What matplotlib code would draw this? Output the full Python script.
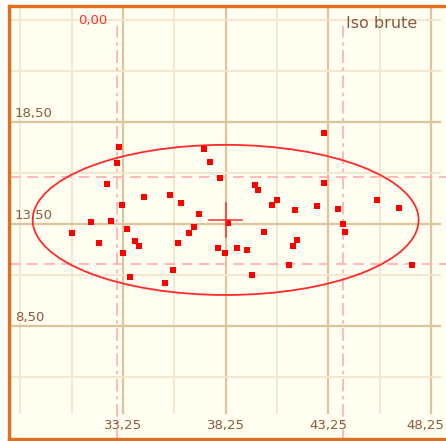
import matplotlib
matplotlib.use("Agg")
import matplotlib.pyplot as plt
import numpy as np
from matplotlib.patches import Ellipse

# ---- data ----
x_vals = [33.04, 32.97, 32.49, 33.20, 34.29, 37.18, 37.49, 37.96, 35.54, 36.09,
          36.94, 43.04, 39.66, 39.84, 40.77, 40.52, 41.63, 42.71, 43.04, 43.74,
          45.61, 46.71, 30.78, 31.71, 32.65, 33.43, 32.10, 33.82, 34.04, 33.26,
          33.59, 36.71, 36.46, 35.93, 35.70, 35.31, 38.35, 37.89, 38.20, 38.82,
          40.13, 39.29, 39.53, 41.71, 41.55, 41.32, 43.98, 44.06, 47.34]
y_vals = [17.26, 16.48, 15.45, 14.43, 14.84, 17.18, 16.55, 15.77, 14.91, 14.51,
          14.00, 17.96, 15.40, 15.15, 14.68, 14.45, 14.19, 14.37, 15.52, 14.22,
          14.66, 14.30, 13.04, 13.58, 13.65, 13.25, 12.55, 12.65, 12.42, 12.09,
          10.92, 13.35, 13.04, 12.55, 11.25, 10.62, 13.56, 12.34, 12.09, 12.34,
          13.11, 12.24, 11.00, 12.72, 12.42, 11.48, 13.50, 13.09, 11.48]

center_x, center_y = 38.25, 13.70
ellipse_half_w, ellipse_half_h = 9.40, 3.68
sd_x = [32.97, 43.98]
sd_y = [15.80, 11.54]
cross_half_w, cross_half_h = 0.80, 0.85

x_major = [33.25, 38.25, 43.25, 48.25]
x_minor = [28.25, 30.75, 35.75, 40.75, 45.75]
y_major = [18.5, 13.5, 8.5]
y_minor = [23.5, 21.0, 16.0, 11.0, 6.0]
x_tick_labels = ["33,25", "38,25", "43,25", "48,25"]
y_tick_labels = ["18,50", "13,50", "8,50"]
corner_label = "0,00"
title_label = "Iso brute"

# ---- figure ----
W, H = 446, 441
fig = plt.figure(figsize=(W / 100, H / 100), dpi=100, facecolor="white")
left_px, right_px, top_px, bot_px = 9, 452, 5.5, 438.5
ax = fig.add_axes([left_px / W, (H - bot_px) / H, (right_px - left_px) / W, (bot_px - top_px) / H])
ax.set_facecolor("#fffef0")

# pixel mapping (from reference): x: 123px->33.25, 20.53 px/unit ; y: 122px->18.5, 20.4 px/unit
def px2x(p):
    return 33.25 + (p - 123) / 20.53

def px2y(p):
    return 18.5 - (p - 122) / 20.4

ax.set_xlim(px2x(left_px), px2x(right_px))
ax.set_ylim(px2y(bot_px), px2y(top_px))
ax.set_xticks([])
ax.set_yticks([])
for s in ax.spines.values():
    s.set_color("#e0701e")
    s.set_linewidth(2.4)

major_c = "#dcc49c"
minor_c = "#f4e4cb"
vy0, vy1 = px2y(413), px2y(9)
hx0, hx1 = px2x(10), px2x(440)
for v in x_minor:
    ax.plot([v, v], [vy0, vy1], color=minor_c, lw=1.3, zorder=1)
for v in x_major:
    ax.plot([v, v], [vy0, vy1], color=major_c, lw=1.6, zorder=1)
for v in y_minor:
    ax.plot([hx0, hx1], [v, v], color=minor_c, lw=1.3, zorder=1)
for v in y_major:
    ax.plot([hx0, hx1], [v, v], color=major_c, lw=1.6, zorder=1)

# sd dashed lines
pink = "#ffb4b4"
for v in sd_x:
    ax.plot([v, v], [px2y(445), px2y(26)], color=pink, lw=1.3, dashes=(7, 2.5, 2, 2.5), zorder=2)
for v in sd_y:
    ax.plot([px2x(10), px2x(450)], [v, v], color=pink, lw=1.3, dashes=(6, 3.5), zorder=2)

# ellipse
ell = Ellipse((center_x, center_y), 2 * ellipse_half_w, 2 * ellipse_half_h,
              fill=False, edgecolor="#ff2a2a", lw=1.3, zorder=3)
ax.add_patch(ell)

# points
ax.plot(x_vals, y_vals, linestyle="none", marker="s", markersize=4.4,
        markerfacecolor="#ff0000", markeredgecolor="#ff0000", markeredgewidth=0, zorder=4)

# center cross
ax.plot([center_x - cross_half_w, center_x + cross_half_w], [center_y, center_y], color="#ff2a2a", lw=1.1, zorder=5)
ax.plot([center_x, center_x], [center_y - cross_half_h, center_y + cross_half_h], color="#ff2a2a", lw=1.1, zorder=5)

# labels
brown = "#8c5a3c"
for v, lab in zip(y_major, y_tick_labels):
    ax.text(px2x(15), v + 0.12, lab, color=brown, fontsize=9.5, ha="left", va="bottom", zorder=6)
for i, (v, lab) in enumerate(zip(x_major, x_tick_labels)):
    if i == len(x_major) - 1:
        ax.text(px2x(444), px2y(425), lab, color=brown, fontsize=9.5, ha="right", va="center", zorder=6)
    else:
        ax.text(v, px2y(425), lab, color=brown, fontsize=9.5, ha="center", va="center", zorder=6)
ax.text(px2x(93), px2y(21), corner_label, color="#ff3030", fontsize=9.5, ha="center", va="center", zorder=6)
ax.text(px2x(382), px2y(24), title_label, color=brown, fontsize=11.5, ha="center", va="center", zorder=6)

fig.savefig("out.png", dpi=100, facecolor="white")
